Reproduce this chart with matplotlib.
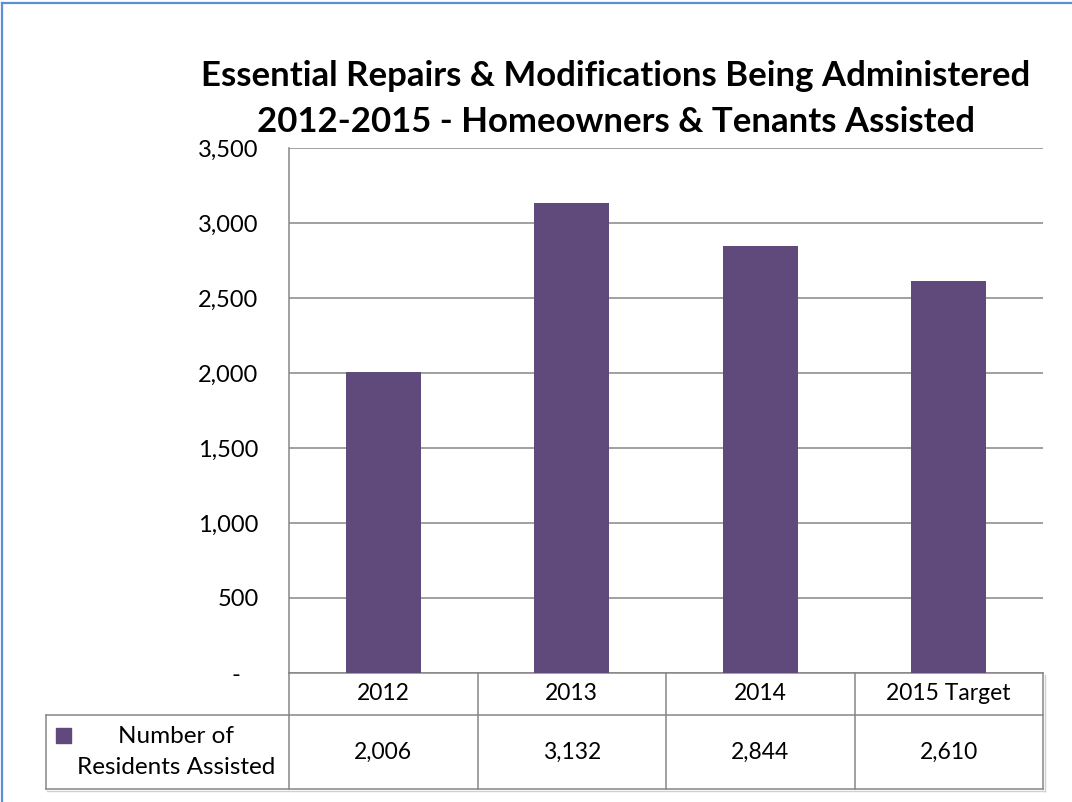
"""
Essential repairs & modifications 2012-2015: bar chart with an Excel-style data table underneath.
Output: out.png (1072x802)
"""
import matplotlib
matplotlib.use("Agg")
import matplotlib.pyplot as plt
import matplotlib.patches as mpatches
from matplotlib.lines import Line2D
from matplotlib.transforms import blended_transform_factory
from matplotlib.ticker import FuncFormatter

# ── data ──────────────────────────────────────────────────────────────────────
categories = ["2012", "2013", "2014", "2015 Target"]
residents = [2006, 3132, 2844, 2610]
series_name = "Number of\nResidents Assisted"
title = "Essential Repairs & Modifications Being Administered\n2012-2015 - Homeowners & Tenants Assisted"

W, H = 1072, 802
BAR = "#604A7B"
GRID = "#868686"
FRAME = "#5B8FD6"
FONT = "Lato"

plt.rcParams["font.family"] = [FONT, "DejaVu Sans"]


def tick_fmt(v, _pos):
    return "-   " if v == 0 else f"{v:,.0f}"


def main() -> None:
    fig = plt.figure(figsize=(W / 100, H / 100), dpi=100)

    # outer chart frame: only its left and top edges fall inside the image
    fig.add_artist(Line2D([2 / W, 2 / W], [0, 1 - 2.5 / H], transform=fig.transFigure, color=FRAME, lw=1.6))
    fig.add_artist(Line2D([2 / W, 1], [1 - 2.5 / H, 1 - 2.5 / H], transform=fig.transFigure, color=FRAME, lw=1.6))

    ax = fig.add_axes([289 / W, (H - 673) / H, 754 / W, 525 / H])
    x = range(len(categories))
    ax.bar(x, residents, width=0.4, color=BAR, zorder=3)
    ax.set_xlim(-0.5, len(categories) - 0.5)
    ax.set_ylim(0, 3500)
    ax.set_yticks(range(0, 3501, 500))
    ax.yaxis.set_major_formatter(FuncFormatter(tick_fmt))
    ax.tick_params(axis="y", length=0, pad=22, labelsize=17)
    ax.set_xticks([])
    ax.grid(axis="y", color=GRID, lw=1.1, zorder=0)
    for s in ("top", "right"):
        ax.spines[s].set_visible(False)
    for s in ("left", "bottom"):
        ax.spines[s].set_color(GRID)
        ax.spines[s].set_linewidth(1.1)

    # ── data table under the plot ─────────────────────────────────────────────
    row1, row2, left = -0.08, -0.221, -0.3223
    bt = blended_transform_factory(ax.transData, ax.transAxes)
    kw = dict(color=GRID, lw=1.1, clip_on=False)
    ax.plot([0, 0], [0, row2], transform=ax.transAxes, **kw)
    ax.plot([1, 1], [0, row2], transform=ax.transAxes, **kw)
    for i in range(len(categories) - 1):
        ax.plot([i + 0.5, i + 0.5], [0, row2], transform=bt, **kw)
    ax.plot([left, 1], [row1, row1], transform=ax.transAxes, **kw)
    ax.plot([left, 1], [row2, row2], transform=ax.transAxes, **kw)
    ax.plot([left, left], [row1, row2], transform=ax.transAxes, **kw)
    # faint drop shadow on the table's right/bottom edges
    ax.plot([left + 0.002, 1.002], [row2 - 0.003, row2 - 0.003], transform=ax.transAxes,
            color="#D0D0D0", lw=1, clip_on=False, zorder=1)
    ax.plot([1.002, 1.002], [-0.003, row2 - 0.003], transform=ax.transAxes,
            color="#D0D0D0", lw=1, clip_on=False, zorder=1)

    for i, (cat, v) in enumerate(zip(categories, residents)):
        ax.text(i, row1 / 2, cat, transform=bt, ha="center", va="center", fontsize=16.5)
        ax.text(i, (row1 + row2) / 2, f"{v:,}", transform=bt, ha="center", va="center", fontsize=16.5)

    ax.add_patch(mpatches.Rectangle((-0.309, -0.1333), 0.0199, 0.0286, transform=ax.transAxes,
                                    color=BAR, clip_on=False))
    ax.text(-0.15, (row1 + row2) / 2, series_name, transform=ax.transAxes, ha="center",
            va="center", fontsize=17.5, linespacing=1.55)

    fig.text(616 / W, 1 - 99 / H, title, ha="center", va="center", fontsize=25,
             fontweight="bold", linespacing=1.5)

    fig.savefig("out.png", dpi=100)
    plt.close(fig)


if __name__ == "__main__":
    main()
